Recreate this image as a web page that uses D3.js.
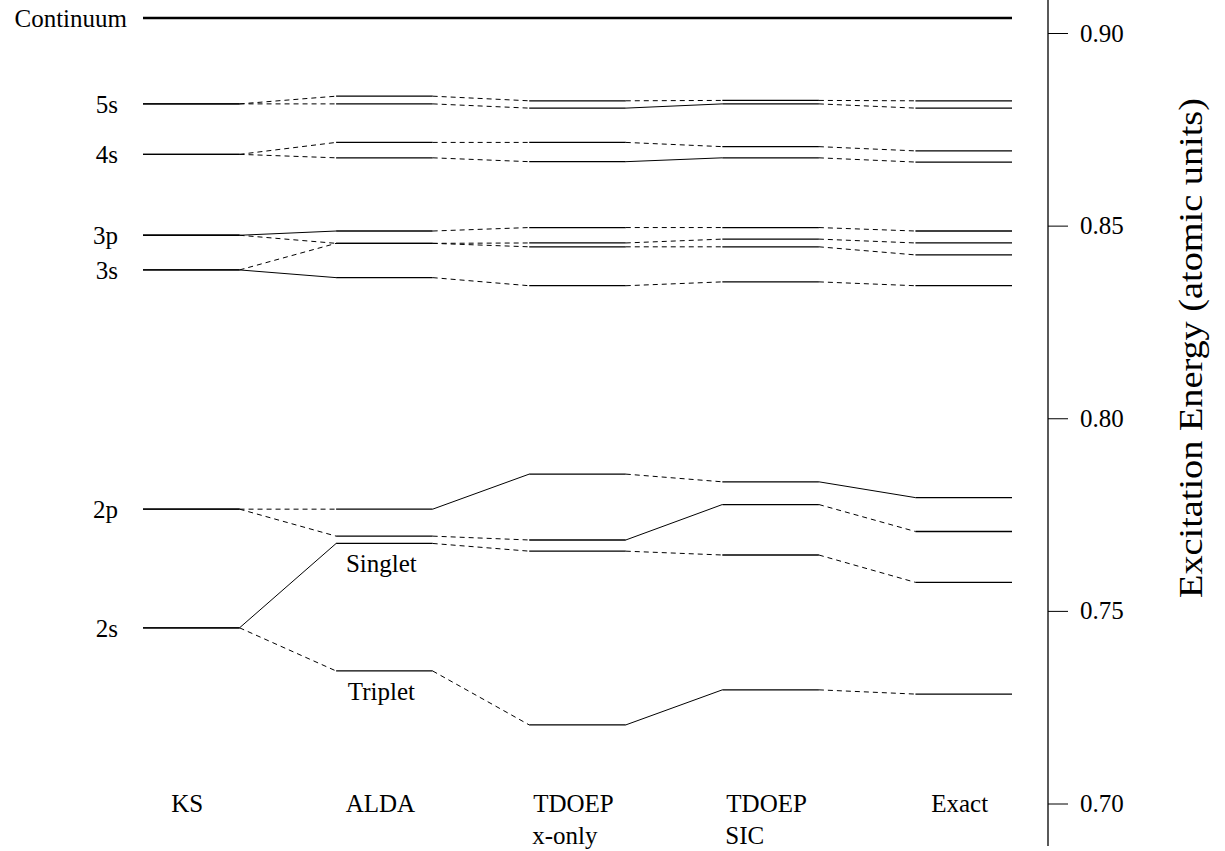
<!DOCTYPE html>
<html lang="en">
<head>
  <meta charset="utf-8">
  <title>Helium excitation energies</title>
  <script src="https://d3js.org/d3.v7.min.js"></script>
  <style>
    body { margin: 0; background: #fff; }
    text { font-family: "Liberation Serif", "Times New Roman", serif; fill: #000; }
  </style>
</head>
<body>
  <div id="chart"></div>
  <script>
    // methods (columns) and their labels
    var methods = ["KS", "ALDA", "TDOEP x-only", "TDOEP SIC", "Exact"];
    var methodLine1 = ["KS", "ALDA", "TDOEP", "TDOEP", "Exact"];
    var methodLine2 = ["", "", "x-only", "SIC", ""];

    var continuum = 0.9039;
    var kohnShamLabels = ["5s", "4s", "3p", "3s", "2p", "2s"];
    var kohnShamLevels = [0.8816, 0.8685, 0.8475, 0.8385, 0.7764, 0.7456];

    // singlet / triplet energies in each column (KS column = unsplit level)
    var s5sS = [0.8816, 0.8836, 0.8824, 0.8825, 0.8824];
    var s5sT = [0.8816, 0.8816, 0.8805, 0.8816, 0.8805];
    var s4sS = [0.8685, 0.8716, 0.8716, 0.8705, 0.8694];
    var s4sT = [0.8685, 0.8676, 0.8666, 0.8676, 0.8665];
    var s3pS = [0.8475, 0.8486, 0.8495, 0.8495, 0.8486];
    var s3pT = [0.8475, 0.8454, 0.8455, 0.8465, 0.8455];
    var s3sS = [0.8385, 0.8454, 0.8445, 0.8445, 0.8424];
    var s3sT = [0.8385, 0.8365, 0.8344, 0.8354, 0.8344];
    var s2pS = [0.7764, 0.7764, 0.7855, 0.7835, 0.7794];
    var s2pT = [0.7764, 0.7694, 0.7684, 0.7776, 0.7706];
    var s2sS = [0.7456, 0.7675, 0.7655, 0.7645, 0.7574];
    var s2sT = [0.7456, 0.7344, 0.7204, 0.7295, 0.7284];

    // connector style between neighbouring columns: s = solid, d = dashed
    var tracks = [
      { values: s5sS, links: "dddd" },
      { values: s5sT, links: "ddsd" },
      { values: s4sS, links: "dddd" },
      { values: s4sT, links: "ddsd" },
      { values: s3pS, links: "sddd" },
      { values: s3pT, links: "dddd" },
      { values: s3sS, links: "dddd" },
      { values: s3sT, links: "sddd" },
      { values: s2pS, links: "dsds" },
      { values: s2pT, links: "ddsd" },
      { values: s2sS, links: "sddd" },
      { values: s2sT, links: "ddsd" }
    ];

    var yTicks = [0.70, 0.75, 0.80, 0.85, 0.90];

    var width = 1225, height = 851;
    var fs = "25px";
    var svg = d3.select("#chart").append("svg")
      .attr("width", width)
      .attr("height", height);

    var x = d3.scaleBand().domain(methods).range([143, 1012]).paddingInner(0.5).paddingOuter(0);
    var y = d3.scaleLinear().domain([0.70, 0.90]).range([803.5, 33]);
    var bw = x.bandwidth();

    // level bars and the connectors between columns
    var levelG = svg.append("g");
    tracks.forEach(function (t) {
      t.values.forEach(function (v, i) {
        levelG.append("line")
          .attr("x1", x(methods[i])).attr("x2", x(methods[i]) + bw)
          .attr("y1", y(v)).attr("y2", y(v))
          .attr("stroke", "#000").attr("stroke-width", 1.3);
      });
      for (var i = 0; i < methods.length - 1; i++) {
        levelG.append("line")
          .attr("x1", x(methods[i]) + bw).attr("x2", x(methods[i + 1]))
          .attr("y1", y(t.values[i])).attr("y2", y(t.values[i + 1]))
          .attr("stroke", "#000").attr("stroke-width", 1)
          .attr("stroke-dasharray", t.links[i] === "d" ? "5,4" : null);
      }
    });

    // continuum
    svg.append("line")
      .attr("x1", x(methods[0])).attr("x2", x(methods[4]) + bw)
      .attr("y1", y(continuum)).attr("y2", y(continuum))
      .attr("stroke", "#000").attr("stroke-width", 2.5);

    svg.append("text")
      .attr("x", 127).attr("y", y(continuum))
      .attr("dy", "0.35em").attr("text-anchor", "end")
      .style("font-size", fs)
      .text("Continuum");

    svg.append("g").selectAll("text").data(kohnShamLabels).enter()
      .append("text")
      .attr("x", 118)
      .attr("y", function (d, i) { return y(kohnShamLevels[i]); })
      .attr("dy", "0.35em").attr("text-anchor", "end")
      .style("font-size", fs)
      .text(function (d) { return d; });

    svg.append("text")
      .attr("x", x("ALDA") + bw / 2 - 3).attr("y", y(s2sS[1]) + 20)
      .attr("dy", "0.35em").attr("text-anchor", "middle")
      .style("font-size", fs)
      .text("Singlet");
    svg.append("text")
      .attr("x", x("ALDA") + bw / 2 - 3).attr("y", y(s2sT[1]) + 20)
      .attr("dy", "0.35em").attr("text-anchor", "middle")
      .style("font-size", fs)
      .text("Triplet");

    // method labels
    var labG = svg.append("g");
    methods.forEach(function (m, i) {
      labG.append("text")
        .attr("x", x(m) + bw / 2 - 4).attr("y", 812)
        .attr("text-anchor", "middle")
        .style("font-size", fs)
        .text(methodLine1[i]);
      if (methodLine2[i]) {
        labG.append("text")
          .attr("x", x(m) + 3).attr("y", 844)
          .attr("text-anchor", "start")
          .style("font-size", fs)
          .text(methodLine2[i]);
      }
    });

    // right axis
    var axisX = 1048;
    svg.append("line")
      .attr("x1", axisX).attr("x2", axisX)
      .attr("y1", 0).attr("y2", 846)
      .attr("stroke", "#000").attr("stroke-width", 1.3);

    var yAxis = svg.append("g")
      .attr("transform", "translate(" + axisX + ",0)")
      .call(d3.axisRight(y).tickValues(yTicks).tickFormat(d3.format(".2f")).tickSize(20).tickPadding(12));
    yAxis.select(".domain").remove();
    yAxis.selectAll(".tick line").attr("stroke", "#000").attr("stroke-width", 1);
    yAxis.selectAll(".tick text")
      .style("font-family", "Liberation Serif, serif")
      .style("font-size", fs)
      .attr("fill", "#000");

    svg.append("text")
      .attr("transform", "translate(1190,348) rotate(-90)")
      .attr("text-anchor", "middle")
      .attr("dy", "0.35em")
      .attr("textLength", 500)
      .attr("lengthAdjust", "spacingAndGlyphs")
      .style("font-size", "34px")
      .text("Excitation Energy (atomic units)");
  </script>
</body>
</html>
